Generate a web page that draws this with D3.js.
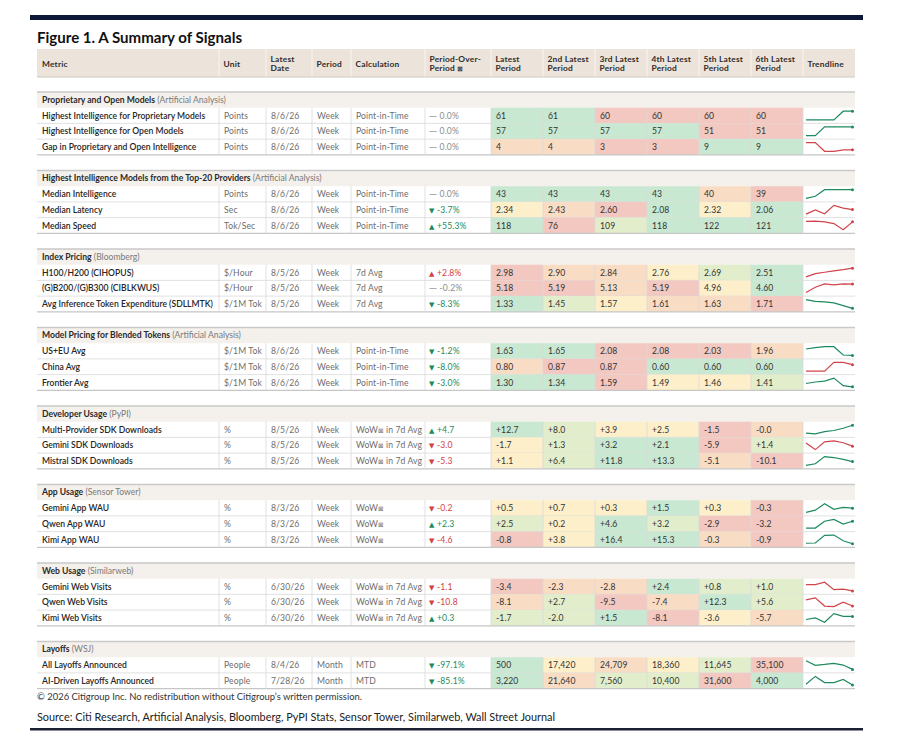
<!DOCTYPE html>
<html>
<head>
<meta charset="utf-8">
<script src="https://cdn.jsdelivr.net/npm/d3@7"></script>
<style>
    body { margin: 0; background: #fff; }
    svg text { font-family: Lato, "Noto Sans", sans-serif; }
</style>
</head>
<body>
<script>
// Column headers (multi-line)
var headers = [
    ["Metric"], ["Unit"], ["Latest", "Date"], ["Period"], ["Calculation"],
    ["Period-Over-", "Period \u22a0"], ["Latest", "Period"], ["2nd Latest", "Period"],
    ["3rd Latest", "Period"], ["4th Latest", "Period"], ["5th Latest", "Period"],
    ["6th Latest", "Period"], ["Trendline"]
];

// Sections
var sectionNames = [
    "Proprietary and Open Models",
    "Highest Intelligence Models from the Top-20 Providers",
    "Index Pricing",
    "Model Pricing for Blended Tokens",
    "Developer Usage",
    "App Usage",
    "Web Usage",
    "Layoffs"
];
var sectionSources = [
    "Artificial Analysis", "Artificial Analysis", "Bloomberg", "Artificial Analysis",
    "PyPI", "Sensor Tower", "Similarweb", "WSJ"
];
var sectionRows = [3, 3, 3, 3, 3, 3, 3, 2];

// Row labels and attributes
var metrics = [
    "Highest Intelligence for Proprietary Models", "Highest Intelligence for Open Models", "Gap in Proprietary and Open Intelligence",
    "Median Intelligence", "Median Latency", "Median Speed",
    "H100/H200 (CIHOPUS)", "(G)B200/(G)B300 (CIBLKWUS)", "Avg Inference Token Expenditure (SDLLMTK)",
    "US+EU Avg", "China Avg", "Frontier Avg",
    "Multi-Provider SDK Downloads", "Gemini SDK Downloads", "Mistral SDK Downloads",
    "Gemini App WAU", "Qwen App WAU", "Kimi App WAU",
    "Gemini Web Visits", "Qwen Web Visits", "Kimi Web Visits",
    "All Layoffs Announced", "AI-Driven Layoffs Announced"
];
var units = [
    "Points", "Points", "Points",
    "Points", "Sec", "Tok/Sec",
    "$/Hour", "$/Hour", "$/1M Tok",
    "$/1M Tok", "$/1M Tok", "$/1M Tok",
    "%", "%", "%",
    "%", "%", "%",
    "%", "%", "%",
    "People", "People"
];
var dates = [
    "8/6/26", "8/6/26", "8/6/26",
    "8/6/26", "8/6/26", "8/6/26",
    "8/5/26", "8/5/26", "8/5/26",
    "8/6/26", "8/6/26", "8/6/26",
    "8/5/26", "8/5/26", "8/5/26",
    "8/3/26", "8/3/26", "8/3/26",
    "6/30/26", "6/30/26", "6/30/26",
    "8/4/26", "7/28/26"
];
var periods = [
    "Week", "Week", "Week", "Week", "Week", "Week", "Week", "Week", "Week",
    "Week", "Week", "Week", "Week", "Week", "Week", "Week", "Week", "Week",
    "Week", "Week", "Week", "Month", "Month"
];
var calcs = [
    "Point-in-Time", "Point-in-Time", "Point-in-Time",
    "Point-in-Time", "Point-in-Time", "Point-in-Time",
    "7d Avg", "7d Avg", "7d Avg",
    "Point-in-Time", "Point-in-Time", "Point-in-Time",
    "WoW\u22a0 in 7d Avg", "WoW\u22a0 in 7d Avg", "WoW\u22a0 in 7d Avg",
    "WoW\u22a0", "WoW\u22a0", "WoW\u22a0",
    "WoW\u22a0 in 7d Avg", "WoW\u22a0 in 7d Avg", "WoW\u22a0 in 7d Avg",
    "MTD", "MTD"
];

// Period-over-period change: arrow, value, tone (g = good, r = bad, n = flat)
var changeArrows = [
    "\u2014", "\u2014", "\u2014",
    "\u2014", "\u25bc", "\u25b2",
    "\u25b2", "\u2014", "\u25bc",
    "\u25bc", "\u25bc", "\u25bc",
    "\u25b2", "\u25bc", "\u25bc",
    "\u25bc", "\u25b2", "\u25bc",
    "\u25bc", "\u25bc", "\u25b2",
    "\u25bc", "\u25bc"
];
var changeValues = [
    "0.0%", "0.0%", "0.0%",
    "0.0%", "-3.7%", "+55.3%",
    "+2.8%", "-0.2%", "-8.3%",
    "-1.2%", "-8.0%", "-3.0%",
    "+4.7", "-3.0", "-5.3",
    "-0.2", "+2.3", "-4.6",
    "-1.1", "-10.8", "+0.3",
    "-97.1%", "-85.1%"
];
var changeTone = [
    "n", "n", "n",
    "n", "g", "g",
    "r", "n", "g",
    "g", "g", "g",
    "g", "r", "r",
    "r", "g", "r",
    "r", "r", "g",
    "g", "g"
];

// Latest .. 6th latest period values
var values = [
    ["61", "61", "60", "60", "60", "60"],
    ["57", "57", "57", "57", "51", "51"],
    ["4", "4", "3", "3", "9", "9"],
    ["43", "43", "43", "43", "40", "39"],
    ["2.34", "2.43", "2.60", "2.08", "2.32", "2.06"],
    ["118", "76", "109", "118", "122", "121"],
    ["2.98", "2.90", "2.84", "2.76", "2.69", "2.51"],
    ["5.18", "5.19", "5.13", "5.19", "4.96", "4.60"],
    ["1.33", "1.45", "1.57", "1.61", "1.63", "1.71"],
    ["1.63", "1.65", "2.08", "2.08", "2.03", "1.96"],
    ["0.80", "0.87", "0.87", "0.60", "0.60", "0.60"],
    ["1.30", "1.34", "1.59", "1.49", "1.46", "1.41"],
    ["+12.7", "+8.0", "+3.9", "+2.5", "-1.5", "-0.0"],
    ["-1.7", "+1.3", "+3.2", "+2.1", "-5.9", "+1.4"],
    ["+1.1", "+6.4", "+11.8", "+13.3", "-5.1", "-10.1"],
    ["+0.5", "+0.7", "+0.3", "+1.5", "+0.3", "-0.3"],
    ["+2.5", "+0.2", "+4.6", "+3.2", "-2.9", "-3.2"],
    ["-0.8", "+3.8", "+16.4", "+15.3", "-0.3", "-0.9"],
    ["-3.4", "-2.3", "-2.8", "+2.4", "+0.8", "+1.0"],
    ["-8.1", "+2.7", "-9.5", "-7.4", "+12.3", "+5.6"],
    ["-1.7", "-2.0", "+1.5", "-8.1", "-3.6", "-5.7"],
    ["500", "17,420", "24,709", "18,360", "11,645", "35,100"],
    ["3,220", "21,640", "7,560", "10,400", "31,600", "4,000"]
];

// Heat class per cell: 1 green .. 5 red
var heat = [
    [1, 1, 5, 5, 5, 5],
    [1, 1, 1, 1, 5, 5],
    [4, 4, 5, 5, 1, 1],
    [1, 1, 1, 1, 4, 5],
    [3, 4, 5, 1, 3, 1],
    [1, 5, 2, 1, 1, 1],
    [5, 4, 4, 3, 2, 1],
    [5, 5, 4, 5, 3, 1],
    [1, 2, 3, 4, 4, 5],
    [1, 1, 5, 5, 5, 4],
    [4, 5, 5, 1, 1, 1],
    [1, 1, 5, 3, 3, 2],
    [1, 2, 3, 3, 5, 4],
    [3, 2, 1, 1, 5, 2],
    [3, 2, 1, 1, 4, 5],
    [3, 3, 3, 1, 3, 5],
    [2, 3, 1, 2, 5, 5],
    [5, 3, 1, 1, 4, 5],
    [5, 4, 4, 1, 2, 2],
    [4, 2, 5, 4, 1, 2],
    [2, 2, 1, 5, 3, 4],
    [1, 3, 4, 3, 2, 5],
    [1, 4, 2, 2, 5, 1]
];

// Trendline levels, oldest -> latest
var trend = [
    [60, 60, 60, 60, 61, 61],
    [51, 51, 57, 57, 57, 57],
    [9, 9, 3, 3, 4, 4],
    [39, 40, 43, 43, 43, 43],
    [2.06, 2.32, 2.08, 2.60, 2.43, 2.34],
    [121, 122, 118, 109, 76, 118],
    [2.51, 2.69, 2.76, 2.84, 2.90, 2.98],
    [4.60, 4.96, 5.19, 5.13, 5.19, 5.18],
    [1.71, 1.63, 1.61, 1.57, 1.45, 1.33],
    [1.96, 2.03, 2.08, 2.08, 1.65, 1.63],
    [0.60, 0.60, 0.60, 0.87, 0.87, 0.80],
    [1.41, 1.46, 1.49, 1.59, 1.34, 1.30],
    [45, 42, 50, 54, 62, 73],
    [28, 7, 32, 35, 29, 18],
    [0, 5, 28, 25, 19, 12],
    [4, 12, 35, 15, 22, 19],
    [0, 0, 22, 28, 13, 22],
    [2, 3, 31, 32, 11, 0],
    [21, 21, 29, 4, 6, 0],
    [24, 31, 2, 0, 16, 2],
    [9, 14, 0, 28, 19, 19],
    [30, 14, 17, 21, 15, 0],
    [3, 28, 8, 8, 18, 0]
];
var trendTone = [
    "g", "g", "r", "g", "r", "r", "r", "r", "g", "g", "r", "g",
    "g", "r", "g", "g", "g", "g", "r", "r", "g", "g", "g"
];

var titleText = "Figure 1. A Summary of Signals";
var copyrightText = "\u00a9 2026 Citigroup Inc. No redistribution without Citigroup\u2019s written permission.";
var sourceText = "Source: Citi Research, Artificial Analysis, Bloomberg, PyPI Stats, Sensor Tower, Similarweb, Wall Street Journal";

(function () {
    var width = 899, height = 750;
    var fs = 8.6;
    var BOX = "\u22a0";

    // Colours
    var heatColor = d3.scaleOrdinal()
        .domain([1, 2, 3, 4, 5])
        .range(["#c9e8d2", "#e2eecb", "#fcefca", "#f9dcc4", "#f2c8c0"]);
    var toneColor = d3.scaleOrdinal()
        .domain(["g", "r", "n"])
        .range(["#1d8a5b", "#d4403f", "#8a8a8a"]);
    var lineColor = { g: "#1f8a5e", r: "#d0454a" };

    // Column boundaries
    var colEdges = [37, 219, 266, 312, 351, 425, 491, 543, 595, 647, 699, 751, 803, 855];
    var rowH = 15.7;
    var headerTop = 49, headerBottom = 77;

    // Write a string into a text node, shrinking the missing-glyph box
    function boxText(sel, accessor) {
        sel.each(function (d, i) {
            var t = d3.select(this);
            var parts = accessor(d, i).split(BOX);
            parts.forEach(function (p, j) {
                if (j > 0) {
                    t.append("tspan").attr("font-size", 6.5).attr("font-family", "DejaVu Sans").text(BOX);
                }
                if (p.length) t.append("tspan").text(p);
            });
        });
    }

    var svg = d3.select("body").append("svg")
        .attr("width", width)
        .attr("height", height);

    // Top rule and title
    svg.append("rect")
        .attr("x", 30).attr("y", 15)
        .attr("width", 833).attr("height", 5)
        .attr("fill", "#0e1838");

    svg.append("text")
        .attr("x", 37).attr("y", 43)
        .attr("font-size", 15.5)
        .attr("font-weight", "bold")
        .attr("fill", "#111")
        .attr("textLength", 205)
        .attr("lengthAdjust", "spacingAndGlyphs")
        .text(titleText);

    // Header band
    svg.append("rect")
        .attr("x", colEdges[0]).attr("y", headerTop)
        .attr("width", colEdges[13] - colEdges[0]).attr("height", headerBottom - headerTop)
        .attr("fill", "#ece4da");
    svg.selectAll(".hsep")
        .data(colEdges.slice(1, 13))
        .enter().append("line")
        .attr("x1", function (d) { return d; }).attr("x2", function (d) { return d; })
        .attr("y1", headerTop).attr("y2", headerBottom)
        .attr("stroke", "#f8f4f0").attr("stroke-width", 1);
    svg.append("line")
        .attr("x1", colEdges[0]).attr("x2", colEdges[13])
        .attr("y1", headerBottom).attr("y2", headerBottom)
        .attr("stroke", "#cfc7bd").attr("stroke-width", 1.2);

    var headerText = svg.selectAll(".htext")
        .data(headers)
        .enter().append("g")
        .attr("class", "htext");
    headerText.each(function (lines, i) {
        var g = d3.select(this);
        var x = colEdges[i] + (i === 0 ? 5 : 4.5);
        var y0 = lines.length === 1 ? 66.5 : 62;
        lines.forEach(function (ln, j) {
            var t = g.append("text")
                .attr("x", x).attr("y", y0 + j * 9)
                .attr("font-size", 8.4)
                .attr("font-weight", "bold")
                .attr("letter-spacing", 0.2)
                .attr("fill", "#2e2e2e")
                .datum(ln);
            boxText(t, function (s) { return s; });
        });
    });

    // Row positions
    var secY = d3.scaleLinear().domain([0, 1]).range([92, 92 + 5 * rowH]);
    var rows = [];
    var k = 0;
    sectionRows.forEach(function (n, s) {
        for (var j = 0; j < n; j++) {
            rows.push({ i: k, s: s, y: secY(s) + (j + 1) * rowH, last: j === n - 1 });
            k++;
        }
    });

    // Section header rows
    var sec = svg.selectAll(".section")
        .data(sectionNames)
        .enter().append("g")
        .attr("class", "section")
        .attr("transform", function (d, s) { return "translate(0," + secY(s) + ")"; });
    sec.append("rect")
        .attr("x", colEdges[0]).attr("y", 0)
        .attr("width", colEdges[13] - colEdges[0]).attr("height", rowH)
        .attr("fill", "#f4f0ec");
    sec.append("line")
        .attr("x1", colEdges[0]).attr("x2", colEdges[13])
        .attr("y1", 0).attr("y2", 0)
        .attr("stroke", "#c9c9c9").attr("stroke-width", 1.4);
    var secText = sec.append("text")
        .attr("x", colEdges[0] + 5).attr("y", rowH / 2 + 3)
        .attr("font-size", fs);
    secText.append("tspan")
        .attr("font-weight", "bold").attr("fill", "#2a2a2a")
        .text(function (d) { return d; });
    secText.append("tspan")
        .attr("fill", "#7a7a7a")
        .text(function (d, s) { return " (" + sectionSources[s] + ")"; });

    // Data rows
    var row = svg.selectAll(".row")
        .data(rows)
        .enter().append("g")
        .attr("class", "row")
        .attr("transform", function (d) { return "translate(0," + d.y + ")"; });

    // Heat cells
    row.selectAll(".cell")
        .data(function (d) {
            return values[d.i].map(function (v, c) { return { v: v, h: heat[d.i][c], c: c }; });
        })
        .enter().append("rect")
        .attr("class", "cell")
        .attr("x", function (d) { return colEdges[6 + d.c]; })
        .attr("y", 0)
        .attr("width", function (d) { return colEdges[7 + d.c] - colEdges[6 + d.c]; })
        .attr("height", rowH)
        .attr("fill", function (d) { return heatColor(d.h); });

    // Grid lines
    row.append("line")
        .attr("x1", colEdges[0]).attr("x2", colEdges[13])
        .attr("y1", rowH).attr("y2", rowH)
        .attr("stroke", function (d) { return d.last ? "#c6c6c6" : "#d9d9d9"; })
        .attr("stroke-width", function (d) { return d.last ? 1.2 : 0.8; });
    row.selectAll(".vsep")
        .data(colEdges.slice(1, 13))
        .enter().append("line")
        .attr("x1", function (d) { return d; }).attr("x2", function (d) { return d; })
        .attr("y1", 0).attr("y2", rowH)
        .attr("stroke", "#d9d9d9").attr("stroke-width", 0.8);

    // Text columns
    var textY = rowH / 2 + 3.1;
    row.append("text")
        .attr("x", colEdges[0] + 5).attr("y", textY)
        .attr("font-size", fs).attr("font-weight", 600).attr("fill", "#262626")
        .text(function (d) { return metrics[d.i]; });
    [units, dates, periods, calcs].forEach(function (arr, c) {
        var t = row.append("text")
            .attr("x", colEdges[1 + c] + 5).attr("y", textY)
            .attr("font-size", fs).attr("letter-spacing", 0.12).attr("fill", "#6d6d6d");
        boxText(t, function (d) { return arr[d.i]; });
    });

    // Period-over-period change
    var chg = row.append("text")
        .attr("x", colEdges[5] + 4).attr("y", textY)
        .attr("font-size", fs)
        .attr("letter-spacing", 0.15)
        .attr("fill", function (d) { return toneColor(changeTone[d.i]); });
    chg.append("tspan")
        .attr("font-family", "DejaVu Sans")
        .attr("font-size", function (d) { return changeArrows[d.i] === "\u2014" ? 8 : 7; })
        .text(function (d) { return changeArrows[d.i]; });
    chg.append("tspan")
        .text(function (d) { return " " + changeValues[d.i]; });

    // Values
    row.selectAll(".val")
        .data(function (d) { return values[d.i]; })
        .enter().append("text")
        .attr("class", "val")
        .attr("x", function (d, c) { return colEdges[6 + c] + 5; })
        .attr("y", textY)
        .attr("font-size", fs).attr("letter-spacing", 0.1).attr("fill", "#333")
        .text(function (d) { return d; });

    // Trendlines
    var tx = d3.scaleLinear().domain([0, 5]).range([colEdges[12] + 3, colEdges[13] - 2.5]);
    row.each(function (d) {
        var g = d3.select(this);
        var ty = d3.scaleLinear().domain(d3.extent(trend[d.i])).range([rowH - 3.5, 3.5]);
        var line = d3.line()
            .x(function (v, j) { return tx(j); })
            .y(function (v) { return ty(v); });
        var col = lineColor[trendTone[d.i]];
        g.append("path")
            .attr("d", line(trend[d.i]))
            .attr("fill", "none")
            .attr("stroke", col)
            .attr("stroke-width", 1.2);
        g.append("circle")
            .attr("cx", tx(5))
            .attr("cy", ty(trend[d.i][5]))
            .attr("r", 1.5)
            .attr("fill", col);
    });

    // Footer
    svg.append("text")
        .attr("x", 37).attr("y", 700)
        .attr("font-size", 10).attr("fill", "#333")
        .attr("textLength", 325).attr("lengthAdjust", "spacingAndGlyphs")
        .text(copyrightText);
    svg.append("text")
        .attr("x", 37).attr("y", 721)
        .attr("font-size", 12).attr("fill", "#222")
        .attr("textLength", 518).attr("lengthAdjust", "spacingAndGlyphs")
        .text(sourceText);
    svg.append("rect")
        .attr("x", 30).attr("y", 728)
        .attr("width", 833).attr("height", 2.5)
        .attr("fill", "#1a1f33");
})();
</script>
</body>
</html>
